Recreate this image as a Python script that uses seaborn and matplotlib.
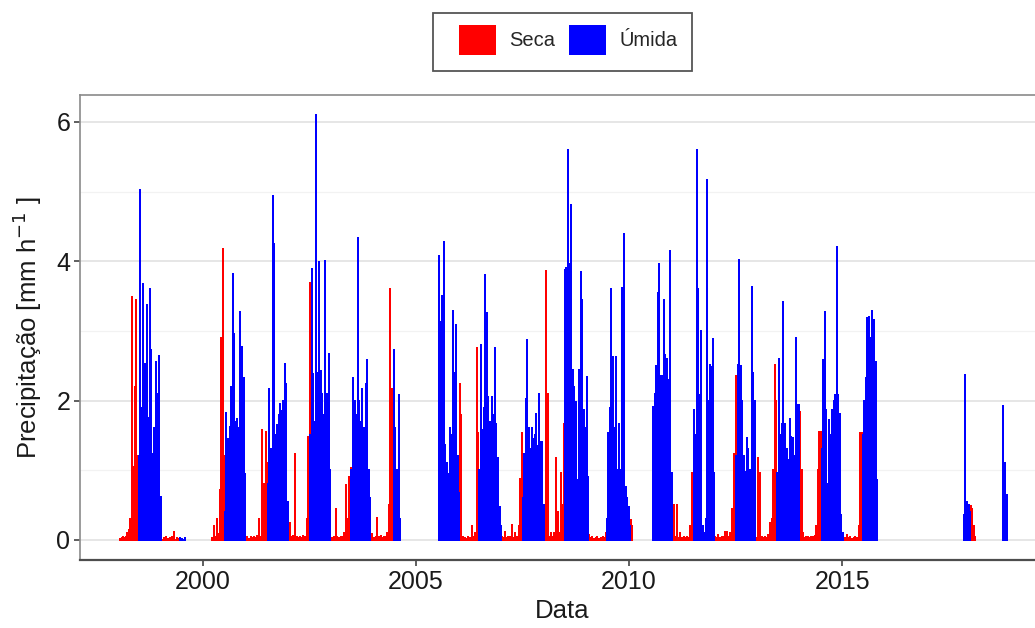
import numpy as np
import pandas as pd
import matplotlib
matplotlib.use("Agg")
import matplotlib.pyplot as plt
from matplotlib.patches import Patch, Rectangle
import seaborn as sns

# ---------------- data ----------------
# Each block: season label, first and last date (decimal year), values (mm/h)
# sampled at regular steps inside the block.
r1998 = [0.02, 0.03, 0.05, 0.03, 0.04, 0.1, 0.15, 0.3, 3.48, 1.05, 2.2, 3.45, 1.2]
u1998 = [1.2, 5.02, 1.9, 3.67, 2.53, 3.37, 1.75, 3.6, 2.72, 1.24, 1.6, 2.55, 2.1, 2.64, 0.62]
r1999 = [0.05, 0.03, 0.04, 0.02, 0.03, 0.05, 0.12, 0.03, 0.02]
u1999 = [0.03, 0.02, 0.03]
r2000 = [0.03, 0.2, 0.05, 0.3, 0.08, 0.72, 2.9, 4.18, 1.2]
u2000 = [0.4, 1.82, 1.45, 1.62, 2.2, 3.82, 2.96, 1.7, 1.74, 1.6, 3.27, 2.77, 2.32, 0.95]
r2001 = [0.03, 0.05, 0.02, 0.04, 0.03, 0.05, 0.03, 0.06, 0.3, 0.05, 1.58, 0.8, 1.55, 1.1]
u2001 = [0.8, 2.17, 1.3, 4.94, 4.25, 1.5, 1.65, 1.79, 1.95, 1.85, 2.0, 2.53, 2.24, 0.55]
r2002 = [0.05, 0.24, 0.04, 0.06, 1.23, 0.05, 0.03, 0.04, 0.03, 0.06, 0.04, 0.3, 1.48, 3.69]
u2002 = [1.5, 3.89, 2.38, 1.7, 6.1, 2.4, 3.99, 2.42, 2.1, 1.8, 4.01, 2.1, 2.67, 1.0]
r2003 = [0.05, 0.03, 0.05, 0.44, 0.04, 0.03, 0.05, 0.04, 0.1, 0.79, 0.3, 0.91, 1.03]
u2003 = [1.0, 2.32, 2.0, 1.8, 4.33, 2.0, 1.7, 2.17, 1.6, 2.24, 2.58, 1.0, 0.6]
r2004 = [0.05, 0.08, 0.03, 0.05, 0.31, 0.04, 0.06, 0.03, 0.05, 0.04, 0.1, 0.5, 3.6, 2.17, 0.9]
u2004 = [2.73, 1.6, 1.0, 0.6, 2.08, 0.3]
u2005 = [4.07, 3.13, 3.5, 4.27, 1.36, 1.1, 0.95, 1.6, 1.5, 3.29, 2.4, 3.08, 1.2, 0.67]
r2006 = [2.24, 1.8, 0.05, 0.03, 0.02, 0.04, 0.03, 0.2, 0.04, 0.1, 2.76, 1.53]
u2006 = [1.0, 2.8, 1.58, 1.9, 3.8, 3.26, 2.05, 1.7, 2.05, 1.8, 2.75, 1.67, 1.17, 0.48, 0.2]
r2007 = [0.05, 0.03, 0.12, 0.03, 0.05, 0.04, 0.21, 0.03, 0.1, 0.05, 0.2, 0.88, 1.53]
u2007 = [0.6, 1.24, 2.03, 2.87, 1.6, 1.3, 1.6, 1.45, 1.5, 1.81, 1.35, 2.09, 1.4, 1.41, 0.5]
r2008 = [0.3, 3.86, 2.1, 0.05, 0.1, 0.04, 0.1, 1.17, 0.4, 0.1, 0.96, 0.5, 1.67]
u2008 = [3.87, 3.9, 5.6, 3.96, 4.8, 2.44, 2.2, 1.98, 0.86, 2.44, 3.85, 3.44, 1.87, 1.6, 2.34, 0.9]
r2009 = [0.07, 0.03, 0.05, 0.02, 0.03, 0.04, 0.02, 0.03, 0.05, 0.03, 0.1]
u2009 = [0.3, 1.53, 1.9, 3.6, 2.63, 1.6, 2.63, 1.0, 1.67, 1.0, 3.62, 4.39, 0.76, 0.6, 0.48, 0.2]
r2010 = [0.29, 0.2]
u2010 = [1.91, 2.1, 2.5, 3.55, 3.96, 2.36, 2.36, 3.45, 2.65, 2.6, 2.3, 4.15, 0.96]
r2011 = [0.05, 0.5, 0.05, 0.5, 0.03, 0.1, 0.03, 0.04, 0.03, 0.05, 0.03, 0.2, 0.96, 1.86]
u2011 = [1.86, 1.5, 5.6, 3.6, 2.08, 3.0, 0.2, 0.1, 0.3, 5.16, 2.0, 2.51, 2.48, 2.89, 0.96]
r2012 = [0.05, 0.03, 0.07, 0.03, 0.05, 0.04, 0.12, 0.12, 0.05, 0.1, 0.45, 1.24, 2.36]
u2012 = [1.2, 2.51, 4.02, 2.49, 2.0, 1.2, 0.98, 1.46, 1.3, 1.0, 3.63, 2.4, 2.0]
r2013 = [0.05, 0.03, 1.17, 0.96, 0.05, 0.03, 0.04, 0.03, 0.07, 0.24, 0.3, 1.0, 2.51, 2.0]
u2013 = [0.96, 2.59, 1.5, 1.67, 3.42, 1.67, 1.3, 1.15, 1.74, 1.48, 1.46, 1.2, 2.9, 1.93, 1.93]
r2014 = [1.84, 1.0, 0.1, 0.03, 0.05, 0.04, 0.03, 0.05, 0.04, 0.06, 0.2, 1.0, 1.55, 1.55]
u2014 = [1.3, 2.58, 3.27, 1.86, 0.8, 1.72, 1.5, 1.86, 2.0, 2.08, 4.2, 2.08, 1.81, 0.36, 0.1]
r2015 = [0.1, 0.03, 0.07, 0.03, 0.04, 0.02, 0.03, 0.04, 0.03, 0.2, 1.53, 1.53]
u2015 = [1.5, 2.0, 2.32, 3.19, 3.2, 2.9, 3.29, 3.15, 2.56, 0.86]
u2017 = [0.36, 2.37, 0.55, 0.5, 0.4]
r2018 = [0.49, 0.45, 0.2, 0.05]
u2018 = [1.92, 1.1, 0.64]

block_values = [r1998, u1998, r1999, u1999, r2000, u2000, r2001, u2001, r2002, u2002,
                r2003, u2003, r2004, u2004, u2005, r2006, u2006, r2007, u2007, r2008,
                u2008, r2009, u2009, r2010, u2010, r2011, u2011, r2012, u2012, r2013,
                u2013, r2014, u2014, r2015, u2015, u2017, r2018, u2018]
block_season = ["Seca", "Úmida", "Seca", "Úmida", "Seca", "Úmida", "Seca", "Úmida", "Seca", "Úmida",
                "Seca", "Úmida", "Seca", "Úmida", "Úmida", "Seca", "Úmida", "Seca", "Úmida", "Seca",
                "Úmida", "Seca", "Úmida", "Seca", "Úmida", "Seca", "Úmida", "Seca", "Úmida", "Seca",
                "Úmida", "Seca", "Úmida", "Seca", "Úmida", "Úmida", "Seca", "Úmida"]
block_start = [1998.05, 1998.49, 1999.02, 1999.45, 2000.21, 2000.51, 2001.00, 2001.52, 2002.005, 2002.52,
               2002.99, 2003.48, 2003.935, 2004.49, 2005.54, 2006.02, 2006.475, 2007.01, 2007.50, 2008.01,
               2008.49, 2009.06, 2009.47, 2010.04, 2010.56, 2011.01, 2011.525, 2012.015, 2012.51, 2012.96,
               2013.47, 2014.01, 2014.52, 2015.03, 2015.48, 2017.856, 2018.02, 2018.778]
block_end = [1998.47, 1999.00, 1999.43, 1999.57, 2000.496, 2000.986, 2001.506, 2001.993, 2002.506, 2002.979,
             2003.468, 2003.924, 2004.475, 2004.617, 2006.012, 2006.461, 2006.998, 2007.487, 2007.998, 2008.48,
             2009.047, 2009.456, 2010.03, 2010.07, 2011.0, 2011.513, 2012.002, 2012.499, 2012.948, 2013.459,
             2013.996, 2014.508, 2015.02, 2015.468, 2015.823, 2018.014, 2018.13, 2018.882]

season_names = ["Seca", "Úmida"]
season_colors = ["#FF0000", "#0000FF"]
x_ticks = [2000, 2005, 2010, 2015]
y_ticks = [0, 2, 4, 6]

# ---------------- long table for seaborn (stems from the baseline) ----------------
rows = []
for b, (vals, s, t0, t1) in enumerate(zip(block_values, block_season, block_start, block_end)):
    xs = np.linspace(t0, t1, len(vals))
    for x, v in zip(xs, vals):
        rows += [(b, s, x, 0.0), (b, s, x, v), (b, s, x, 0.0)]
df = pd.DataFrame(rows, columns=["bloco", "Estacao", "Data", "Precip"])

# ---------------- figure ----------------
sns.set_theme(style="white")
plt.rcParams["font.family"] = ["Liberation Sans", "DejaVu Sans"]

W, H = 1035, 628
fig = plt.figure(figsize=(W / 100, H / 100), dpi=100)
ax = fig.add_axes([80 / W, 1 - 560 / H, (1044 - 80) / W, (560 - 95) / H])

# grid
for y in [1, 3, 5]:
    ax.axhline(y, color="#F2F2F2", lw=0.9, zorder=0)
for y in y_ticks:
    ax.axhline(y, color="#E6E6E6", lw=1.4, zorder=0)

palette = dict(zip(season_names, season_colors))
sns.lineplot(data=df, x="Data", y="Precip", hue="Estacao", units="bloco",
             estimator=None, sort=False, palette=palette, linewidth=1.4,
             legend=False, ax=ax)

ax.set_xlim(1997.11, 2019.74)
ax.set_ylim(-0.287, 6.385)
ax.set_xticks(x_ticks)
ax.set_xticklabels([str(t) for t in x_ticks])
ax.set_yticks(y_ticks)
ax.set_yticklabels([str(t) for t in y_ticks])
ax.tick_params(axis="both", labelsize=18, colors="#333333", labelcolor="#1a1a1a",
               length=4, width=1.1, pad=3)
ax.tick_params(axis="x", bottom=True)
ax.tick_params(axis="y", left=True)

for side in ["left", "top"]:
    ax.spines[side].set_color("#8a8a8a")
    ax.spines[side].set_linewidth(1.2)
ax.spines["bottom"].set_color("#4d4d4d")
ax.spines["bottom"].set_linewidth(1.6)
ax.spines["right"].set_visible(False)

ax.set_xlabel("Data", fontsize=18.5, color="#1a1a1a", labelpad=4)
ax.set_ylabel("Precipitação [mm h$^{-1}$ ]", fontsize=18.5, color="#1a1a1a", labelpad=9)

# legend
handles = [Patch(facecolor=c, edgecolor="none") for c in season_colors]
fig.legend(handles, season_names, loc="center", bbox_to_anchor=(568 / W, 1 - 40 / H),
           ncol=2, frameon=False, fontsize=14.5, handlelength=1.84, handleheight=1.84,
           handletextpad=0.65, columnspacing=0.7, borderpad=0.0)
fig.patches.append(Rectangle((433 / W, 1 - 71 / H), (692 - 433) / W, (71 - 13) / H,
                             transform=fig.transFigure, facecolor="white",
                             edgecolor="#555555", lw=1.3, zorder=-1))

fig.savefig("out.png", dpi=100)
